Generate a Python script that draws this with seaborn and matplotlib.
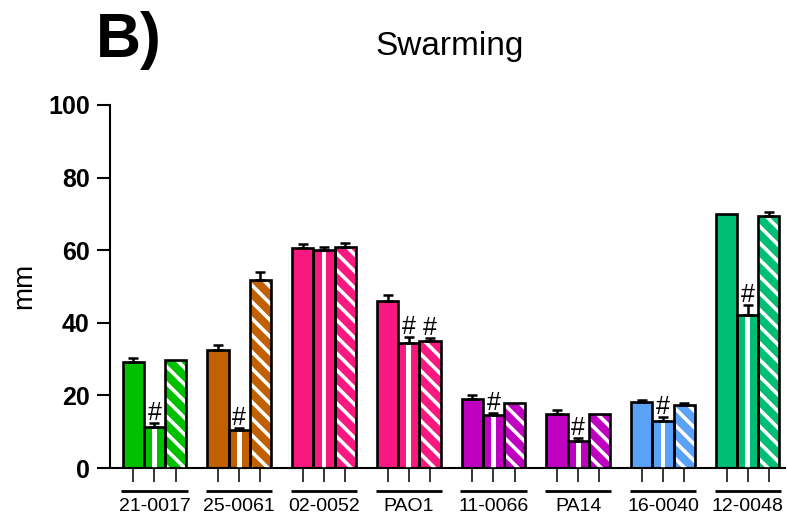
import numpy as np
import pandas as pd
import matplotlib
matplotlib.use("Agg")
import matplotlib.pyplot as plt
import seaborn as sns
from matplotlib.transforms import blended_transform_factory

# Strains on the x axis and the three measurement conditions per strain
strains = ["21-0017", "25-0061", "02-0052", "PAO1", "11-0066", "PA14", "16-0040", "12-0048"]
conditions = ["solid", "striped", "hatched"]

# Swarming diameters (mm) and upper error (SEM) per condition
solid_mm = [29.3, 32.6, 60.7, 46.0, 18.9, 15.0, 18.3, 70.0]
solid_err = [1.1, 1.2, 1.1, 1.7, 1.1, 1.1, 0.5, 0.0]
striped_mm = [11.2, 10.6, 60.1, 34.5, 14.6, 7.5, 12.9, 42.2]
striped_err = [1.2, 0.4, 0.8, 1.5, 0.6, 0.7, 1.1, 2.7]
hatched_mm = [29.8, 51.8, 60.9, 34.9, 17.9, 14.9, 17.3, 69.3]
hatched_err = [0.0, 2.2, 1.1, 0.8, 0.0, 0.0, 0.5, 1.2]

# Significance marks (#) per condition
striped_sig = [1, 1, 0, 1, 1, 1, 1, 1]
hatched_sig = [0, 0, 0, 1, 0, 0, 0, 0]

strain_colors = ["#00C000", "#C06000", "#F8187F", "#F8187F",
                 "#C000C0", "#C000C0", "#5AA2F8", "#00BE74"]

yticks = [0, 20, 40, 60, 80, 100]

values = [solid_mm, striped_mm, hatched_mm]
errors = [solid_err, striped_err, hatched_err]
sigs = [[0] * len(strains), striped_sig, hatched_sig]

df = pd.DataFrame({
    "strain": np.repeat([strains], 3, axis=0).ravel(),
    "cond": np.repeat(conditions, len(strains)),
    "mm": np.concatenate(values),
})

sns.set_theme(style="ticks")
plt.rcParams["font.family"] = ["Liberation Sans", "DejaVu Sans"]
plt.rcParams["text.color"] = "black"
plt.rcParams["axes.labelcolor"] = "black"
plt.rcParams["xtick.color"] = "black"
plt.rcParams["ytick.color"] = "black"
plt.rcParams["axes.edgecolor"] = "black"
plt.rcParams["hatch.linewidth"] = 2.6
plt.rcParams["hatch.color"] = "white"

fig = plt.figure(figsize=(7.87, 5.21), dpi=100)
ax = fig.add_axes([110 / 787, 53 / 521, 675 / 787, 363 / 521])

sns.barplot(data=df, x="strain", y="mm", hue="cond", order=strains,
            hue_order=conditions, width=0.75, errorbar=None,
            palette=["white"] * 3, saturation=1, linewidth=0,
            legend=False, ax=ax, zorder=2)

edge_lw = 1.9
centers = []
bar_groups = list(ax.containers)
for k, cont in enumerate(bar_groups):
    for g, patch in enumerate(cont):
        patch.set_facecolor(strain_colors[g])
        cx = patch.get_x() + patch.get_width() / 2
        w = patch.get_width()
        h = patch.get_height()
        centers.append(cx)
        if k == 1:
            # single white vertical stripe through the middle of the bar
            ax.bar(cx, h, width=w * 0.22, color="white", linewidth=0, zorder=3)
        elif k == 2:
            # white diagonal stripes
            ax.bar(cx, h, width=w, facecolor="none", edgecolor="white",
                   hatch="\\\\", linewidth=0, zorder=3)
        # black outline on top
        ax.bar(cx, h, width=w, facecolor="none", edgecolor="black",
               linewidth=edge_lw, zorder=4)
        err = errors[k][g]
        if err > 0:
            ax.errorbar(cx, h, yerr=[[0], [err]], fmt="none", ecolor="black",
                        elinewidth=1.8, capsize=3.8, capthick=1.8, zorder=5)
        if sigs[k][g]:
            ax.text(cx, h + err - 0.5, "#", ha="center", va="bottom",
                    fontsize=18, zorder=6)

ax.set_ylim(0, 100)
ax.set_xlim(-0.525, 7.44)
ax.set_yticks(yticks)
ax.set_yticklabels([str(t) for t in yticks], fontsize=18, fontweight="bold")
ax.set_xticks(sorted(centers))
ax.set_xticklabels([])
ax.tick_params(axis="x", length=10, width=1.1, direction="out")
ax.tick_params(axis="y", length=9.5, width=1.5, direction="out", pad=5)
ax.set_xlabel("")
ax.set_ylabel("")
sns.despine(ax=ax)
for side in ("left", "bottom"):
    ax.spines[side].set_linewidth(1.5)

# group underlines and strain names below the axis
trans = blended_transform_factory(ax.transData, ax.transAxes)
for g, name in enumerate(strains):
    ax.plot([g - 0.39, g + 0.39], [-0.063, -0.063], color="black",
            linewidth=2.0, transform=trans, clip_on=False, solid_capstyle="butt")
    ax.text(g, -0.105, name, transform=trans, ha="center", va="center",
            fontsize=14)

fig.text(24 / 787, (521 - 286) / 521, "mm", rotation=90, ha="center",
         va="center", fontsize=20)
fig.text(450 / 787, (521 - 47) / 521, "Swarming", ha="center", va="center",
         fontsize=24)
fig.text(96 / 787, (521 - 57) / 521, "B)", ha="left", va="baseline",
         fontsize=45, fontweight="bold")

fig.savefig("out.png", dpi=100, facecolor="white")
